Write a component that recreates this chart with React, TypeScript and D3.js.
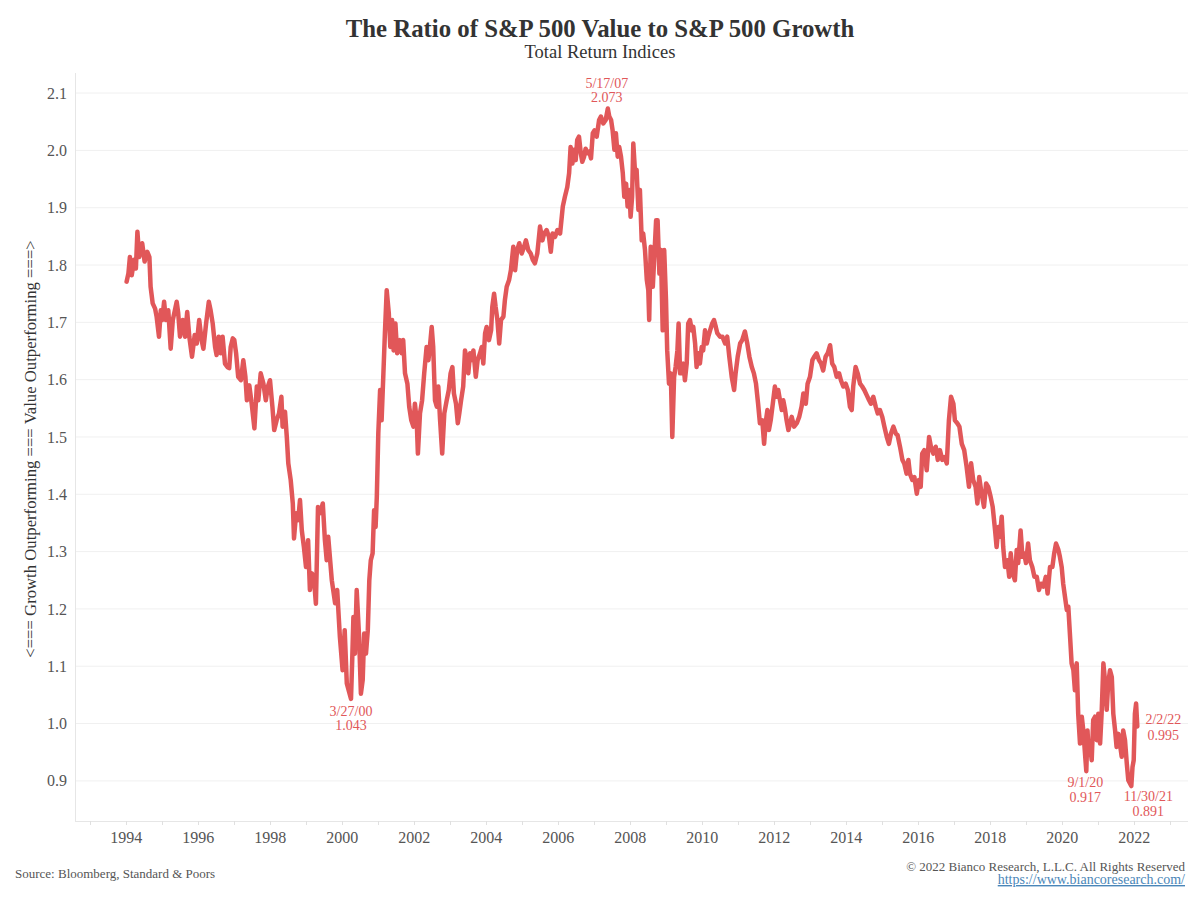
import { useEffect, useRef } from "react";
import * as d3 from "d3";

// months since Jan 1994 and the Value / Growth ratio
const monthsSince1994 = [
  0.1, 0.7, 1.2, 1.8, 2.6, 3.2, 3.7, 4.3, 5.3, 6.1, 7.0, 7.7, 8.1, 8.8, 9.6, 10.1, 10.9, 11.5, 12.0, 12.6,
  13.2, 14.0, 14.8, 15.5, 16.2, 16.8, 17.3, 17.9, 18.8, 19.6, 20.3, 21.0, 21.9, 22.8, 23.5, 24.3, 25.1, 25.7, 26.6, 27.5,
  28.1, 28.8, 29.6, 30.1, 30.8, 31.5, 32.1, 32.9, 33.7, 34.3, 34.8, 35.5, 36.0, 36.6, 37.3, 38.2, 39.0, 39.7, 40.2, 41.0,
  41.8, 42.7, 43.5, 44.0, 44.8, 45.7, 46.5, 47.2, 47.9, 48.7, 49.3, 50.1, 50.9, 51.7, 52.1, 52.9, 53.5, 54.0, 54.8, 55.5,
  55.9, 56.6, 57.3, 57.9, 58.5, 59.2, 59.9, 60.6, 61.2, 61.9, 62.6, 63.2, 63.9, 64.6, 65.5, 66.2, 66.8, 67.3,
  68.5, 69.6, 70.3, 71.2, 72.1, 72.8, 73.5, 74.9, 75.3, 75.7, 76.2, 76.8, 77.6, 78.2, 78.8, 79.3, 79.9, 80.5, 81.0, 81.5,
  82.1, 82.6, 83.1, 83.5, 84.0, 84.6, 85.1, 85.7, 86.2, 86.8, 87.5, 88.0, 88.6, 89.1, 89.7, 90.3, 91.2, 91.8, 92.3, 92.9,
  93.7, 94.3, 95.0, 95.7, 96.2, 96.8, 97.2, 97.9, 98.6, 99.3, 100.1, 100.7, 101.2, 101.8, 102.3, 102.9, 103.5, 104.0, 104.6, 105.3,
  106.0, 106.8, 107.5, 108.1, 108.7, 109.2, 109.9, 110.5, 111.0, 111.6, 112.3, 112.9, 113.5, 114.0, 114.6, 115.1, 115.7, 116.5, 117.1, 117.9,
  118.5, 119.0, 119.6, 120.1, 120.9, 121.6, 122.0, 122.6, 123.1, 123.7, 124.3, 124.9, 125.7, 126.2, 126.8, 127.6, 128.2, 129.0, 129.6, 130.3,
  131.0, 131.8, 132.6, 133.2, 134.0, 134.8, 135.5, 136.2, 137.0, 137.9, 138.7, 139.3, 140.1, 140.9, 141.5, 142.1, 142.9, 143.7, 144.6,
  145.5, 146.2, 147.0, 147.6, 148.1, 148.7, 149.2, 149.8, 150.3, 150.9, 151.5, 152.0, 152.6, 153.1, 153.7, 154.3, 154.9, 155.5, 156.1, 156.8,
  157.6, 158.2, 159.0, 159.8, 160.5, 161.0, 161.6, 162.1, 162.7, 163.2, 163.8, 164.3, 164.9, 165.5, 166.0, 166.6, 167.1, 167.7, 168.1, 168.6,
  169.0, 169.6, 170.1, 170.7, 171.2, 171.8, 172.3, 172.9, 173.5, 174.0, 174.3, 174.8, 175.5, 176.0, 176.6, 177.1, 177.7, 178.2, 178.8, 179.3,
  179.9, 180.3, 180.9, 181.5, 182.0, 182.6, 183.1, 183.7, 184.1, 184.6, 185.1, 185.7, 186.2, 186.8, 187.3, 187.9, 188.5, 189.0, 189.6, 190.1,
  190.7, 191.2, 191.8, 192.3, 192.9, 193.5, 194.0, 194.6, 195.3, 195.9, 196.5, 197.0, 197.9, 198.7, 199.6, 200.3, 201.0, 201.8, 202.6, 203.1,
  203.8, 204.6, 205.3, 206.2, 207.0, 207.7, 208.5, 209.2, 209.9, 210.6, 211.2, 212.0, 212.6, 213.1, 213.7, 214.2, 214.8, 215.5, 216.2, 216.8,
  217.3, 217.9, 218.5, 219.0, 219.6, 220.1, 220.7,
  221.8, 222.6, 223.5, 224.3, 225.1, 225.7, 226.5, 227.1, 227.9, 228.7, 229.3, 230.1, 230.9, 231.6, 232.3, 233.1, 233.8, 234.6, 235.3, 236.0,
  236.8, 237.6, 238.2, 239.0, 239.8, 240.5, 241.2, 241.8, 242.3, 243.1, 243.8, 244.6, 245.3, 246.0, 246.8, 247.6, 248.2, 249.0, 249.8, 250.5,
  251.2, 252.0, 252.7, 253.5, 254.2, 254.9, 255.7, 256.5, 257.1, 257.9, 258.7, 259.3, 260.1, 260.7, 261.2, 262.0, 262.7, 263.5, 264.2, 264.8,
  265.3, 266.0, 266.8, 267.6, 268.2, 269.0, 269.8, 270.5, 271.2, 272.0, 272.7, 273.5, 274.2, 274.9, 275.7, 276.2, 277.0, 277.7, 278.5, 279.3,
  280.1, 280.9, 281.6, 282.3, 283.1, 283.7, 284.3, 285.1, 285.9, 286.6, 287.3, 288.1,
  288.8, 289.6, 290.1, 290.7, 291.2, 291.8, 292.3, 292.9, 293.7, 294.3, 294.8, 295.5, 296.2, 296.8, 297.3, 298.1, 298.7, 299.3, 299.9, 300.6,
  301.2, 302.0, 302.7, 303.5, 304.2, 304.9, 305.7, 306.5, 307.1, 307.9, 308.7, 309.3, 309.9, 310.7, 311.2, 311.8, 312.3, 312.9, 313.5, 314.0,
  314.6, 315.1, 315.7, 316.2, 316.8, 317.3, 317.9, 318.5, 319.0, 320.0, 320.4, 320.8, 321.2, 321.8, 322.3, 322.9, 323.5, 324.0, 324.6, 325.1,
  325.7, 326.2, 326.8, 327.3, 327.9, 328.5, 329.0, 329.6, 330.1, 330.7, 331.2, 331.8, 332.3, 332.9, 333.5, 334.0, 335.0, 335.4, 335.8, 336.2,
  336.6, 337.0,
];

const ratio = [
  1.771, 1.785, 1.814, 1.782, 1.809, 1.794, 1.858, 1.814, 1.838, 1.806, 1.823, 1.814, 1.762, 1.733, 1.724, 1.71, 1.675, 1.721, 1.704, 1.736,
  1.704, 1.721, 1.654, 1.704, 1.721, 1.736, 1.716, 1.675, 1.704, 1.675, 1.718, 1.675, 1.64, 1.678, 1.663, 1.704, 1.669, 1.654, 1.698, 1.736,
  1.721, 1.698, 1.657, 1.643, 1.675, 1.646, 1.675, 1.628, 1.622, 1.62, 1.657, 1.672, 1.669, 1.646, 1.605, 1.599, 1.634, 1.605, 1.564, 1.59,
  1.558, 1.515, 1.588, 1.564, 1.611, 1.593, 1.564, 1.588, 1.599, 1.553, 1.512, 1.529, 1.541, 1.57, 1.518, 1.544, 1.5, 1.454, 1.425, 1.384,
  1.323, 1.367, 1.355, 1.39, 1.337, 1.308, 1.273, 1.32, 1.233, 1.262, 1.25, 1.209, 1.378, 1.367, 1.384, 1.32, 1.285, 1.326,
  1.25, 1.21, 1.233, 1.151, 1.093, 1.163, 1.07, 1.043, 1.11, 1.186, 1.122, 1.233, 1.151, 1.052, 1.076, 1.157, 1.122, 1.163, 1.25, 1.285,
  1.297, 1.372, 1.343, 1.395, 1.506, 1.582, 1.529, 1.611, 1.681, 1.756, 1.716, 1.657, 1.704, 1.651, 1.698, 1.646, 1.669, 1.646, 1.669, 1.611,
  1.593, 1.553, 1.529, 1.518, 1.558, 1.529, 1.471, 1.541, 1.564, 1.611, 1.657, 1.634, 1.657, 1.692, 1.657, 1.564, 1.553, 1.588, 1.529, 1.471,
  1.541, 1.564, 1.582, 1.611, 1.622, 1.576, 1.558, 1.524, 1.541, 1.564, 1.588, 1.651, 1.634, 1.611, 1.646, 1.634, 1.651, 1.605, 1.634, 1.646,
  1.657, 1.628, 1.681, 1.692, 1.669, 1.686, 1.727, 1.75, 1.727, 1.704, 1.663, 1.704, 1.71, 1.739, 1.762, 1.774, 1.791, 1.832, 1.791, 1.826,
  1.838, 1.82, 1.832, 1.843, 1.826, 1.82, 1.809, 1.803, 1.82, 1.867, 1.843, 1.855, 1.861, 1.849, 1.823, 1.855, 1.849, 1.861, 1.855,
  1.902, 1.919, 1.936, 1.96, 2.006, 1.977, 2.001, 1.983, 2.018, 2.024, 1.995, 1.98, 1.989, 2.003, 1.995, 1.998, 1.986, 2.03, 2.035, 2.024,
  2.053, 2.059, 2.047, 2.053, 2.073, 2.059, 2.053, 2.035, 2.001, 2.03, 1.989, 2.006, 1.989, 1.96, 1.919, 1.942, 1.902, 1.931, 1.884, 1.919,
  2.012, 1.96, 1.966, 1.896, 1.931, 1.843, 1.855, 1.826, 1.774, 1.756, 1.704, 1.832, 1.762, 1.814, 1.878, 1.878, 1.785, 1.826, 1.686, 1.826,
  1.739, 1.651, 1.593, 1.611, 1.5, 1.605, 1.622, 1.651, 1.698, 1.611, 1.611, 1.628, 1.599, 1.628, 1.698, 1.704, 1.686, 1.692, 1.663, 1.622,
  1.646, 1.628, 1.657, 1.651, 1.686, 1.663, 1.675, 1.686, 1.698, 1.704, 1.692, 1.681, 1.675, 1.675, 1.663, 1.675, 1.64, 1.605, 1.582, 1.611,
  1.64, 1.663, 1.669, 1.684, 1.663, 1.64, 1.622, 1.611, 1.593, 1.558, 1.524, 1.529, 1.488, 1.524, 1.547, 1.512, 1.529, 1.558, 1.588, 1.57,
  1.582, 1.564, 1.547, 1.564, 1.547, 1.529, 1.512,
  1.535, 1.518, 1.524, 1.535, 1.553, 1.576, 1.558, 1.593, 1.605, 1.634, 1.64, 1.646, 1.634, 1.628, 1.616, 1.64, 1.646, 1.66, 1.628, 1.622,
  1.605, 1.611, 1.599, 1.588, 1.593, 1.582, 1.553, 1.547, 1.588, 1.622, 1.611, 1.593, 1.588, 1.582, 1.573, 1.564, 1.558, 1.57, 1.553, 1.541,
  1.547, 1.535, 1.518, 1.5, 1.488, 1.506, 1.518, 1.506, 1.503, 1.483, 1.46, 1.454, 1.436, 1.46, 1.436, 1.425, 1.43, 1.401, 1.425, 1.413,
  1.471, 1.477, 1.442, 1.5, 1.483, 1.471, 1.483, 1.46, 1.477, 1.46, 1.465, 1.454, 1.529, 1.57, 1.558, 1.529, 1.524, 1.518, 1.488, 1.477,
  1.448, 1.413, 1.454, 1.425, 1.413, 1.384, 1.43, 1.401, 1.378, 1.419, 1.413, 1.396,
  1.378, 1.337, 1.308, 1.343, 1.326, 1.361, 1.308, 1.273, 1.285, 1.256, 1.297, 1.262, 1.25, 1.303, 1.28, 1.337, 1.291, 1.297, 1.28, 1.314,
  1.285, 1.273, 1.256, 1.256, 1.233, 1.244, 1.239, 1.256, 1.227, 1.273, 1.273, 1.297, 1.314, 1.303, 1.291, 1.273, 1.244, 1.221, 1.198, 1.204,
  1.151, 1.105, 1.093, 1.058, 1.105, 1.017, 0.965, 1.012, 0.988, 0.917, 0.988, 0.948, 0.965, 0.936, 1.006, 1.012, 0.971, 1.017, 0.965, 1.017,
  1.105, 1.076, 1.024, 1.07, 1.093, 1.081, 1.017, 0.988, 0.959, 0.982, 0.965, 0.942, 0.988, 0.971, 0.93, 0.901, 0.891, 0.924, 0.936, 1.017,
  1.035, 0.995,
];

const yTicks = [0.9, 1.0, 1.1, 1.2, 1.3, 1.4, 1.5, 1.6, 1.7, 1.8, 1.9, 2.0, 2.1];
const tickYears = d3.range(1993, 2024);
const labelYears = [1994, 1996, 1998, 2000, 2002, 2004, 2006, 2008, 2010, 2012, 2014, 2016, 2018, 2020, 2022];

const calloutDates = ["3/27/00", "5/17/07", "9/1/20", "11/30/21", "2/2/22"];
const calloutMonths = [74.9, 160.5, 320.0, 335.0, 337.0];
const calloutValues = [1.043, 2.073, 0.917, 0.891, 0.995];

const FONT = "'Liberation Serif', Georgia, serif";
const RED = "#e15759";

const toDate = (m: number) => new Date(Date.UTC(1994, 0, 1) + m * 30.4375 * 864e5);

export default function App() {
  const ref = useRef<SVGSVGElement>(null);

  useEffect(() => {
    const svg = d3.select(ref.current);
    svg.selectAll("*").remove();

    const left = 75, right = 1188, top = 73, bottom = 821;

    const x = d3
      .scaleUtc()
      .domain([toDate(-17.1), toDate(353.9)])
      .range([left, right]);
    const y = d3.scaleLinear().domain([0.83, 2.135]).range([bottom, top]);

    // grid
    svg
      .append("g")
      .selectAll("line")
      .data(yTicks)
      .join("line")
      .attr("x1", left)
      .attr("x2", right)
      .attr("y1", (d) => y(d))
      .attr("y2", (d) => y(d))
      .attr("stroke", "#f0f0f0")
      .attr("stroke-width", 1);

    // axis frame
    svg.append("line").attr("x1", left + 0.5).attr("x2", left + 0.5).attr("y1", top).attr("y2", bottom).attr("stroke", "#e6e6e6");
    svg.append("line").attr("x1", left).attr("x2", right).attr("y1", bottom + 0.5).attr("y2", bottom + 0.5).attr("stroke", "#e6e6e6");

    // y labels
    svg
      .append("g")
      .selectAll("text")
      .data(yTicks)
      .join("text")
      .attr("x", 67)
      .attr("y", (d) => y(d))
      .attr("dy", "0.35em")
      .attr("text-anchor", "end")
      .attr("font-family", FONT)
      .attr("font-size", 16)
      .attr("fill", "#555")
      .text((d) => d.toFixed(1));

    // x ticks
    svg
      .append("g")
      .selectAll("line")
      .data(tickYears)
      .join("line")
      .attr("x1", (d) => Math.round(x(new Date(Date.UTC(d, 0, 1)))) + 0.5)
      .attr("x2", (d) => Math.round(x(new Date(Date.UTC(d, 0, 1)))) + 0.5)
      .attr("y1", bottom)
      .attr("y2", bottom + 4)
      .attr("stroke", "#e0e0e0");

    svg
      .append("g")
      .selectAll("text")
      .data(labelYears)
      .join("text")
      .attr("x", (d) => x(new Date(Date.UTC(d, 0, 1))))
      .attr("y", 843)
      .attr("text-anchor", "middle")
      .attr("font-family", FONT)
      .attr("font-size", 16)
      .attr("fill", "#555")
      .text((d) => d);

    // y title
    svg
      .append("text")
      .attr("transform", `translate(30,${449}) rotate(-90)`)
      .attr("dy", "0.35em")
      .attr("text-anchor", "middle")
      .attr("font-family", FONT)
      .attr("font-size", 16.7)
      .attr("fill", "#333")
      .text("<=== Growth Outperforming === Value Outperforming ===>");

    // line
    const pts = monthsSince1994.map((m, i) => [m, ratio[i]] as [number, number]);
    const line = d3
      .line<[number, number]>()
      .x((d) => x(toDate(d[0])))
      .y((d) => y(d[1]));
    svg
      .append("path")
      .datum(pts)
      .attr("d", line)
      .attr("fill", "none")
      .attr("stroke", RED)
      .attr("stroke-width", 4.5)
      .attr("stroke-linejoin", "round")
      .attr("stroke-linecap", "round");

    // callouts
    const place: Record<string, [number, number, number]> = {
      "3/27/00": [0, 17, 31],
      "5/17/07": [-1, -21, -7],
      "9/1/20": [-1, 16, 31],
      "11/30/21": [17, 15, 30],
      "2/2/22": [26, -2, 14],
    };
    calloutDates.forEach((label, i) => {
      const cx = x(toDate(calloutMonths[i]));
      const cy = y(calloutValues[i]);
      const [dx, d1, d2] = place[label];
      const g = svg.append("g").attr("font-family", FONT).attr("font-size", 14).attr("fill", RED).attr("text-anchor", "middle");
      g.append("text").attr("x", cx + dx).attr("y", cy + d1).text(label);
      g.append("text").attr("x", cx + dx).attr("y", cy + d2).text(calloutValues[i].toFixed(3));
    });

    // titles
    svg
      .append("text")
      .attr("x", 600)
      .attr("y", 37)
      .attr("text-anchor", "middle")
      .attr("font-family", FONT)
      .attr("font-weight", "bold")
      .attr("font-size", 24.8)
      .attr("fill", "#333")
      .text("The Ratio of S&P 500 Value to S&P 500 Growth");
    svg
      .append("text")
      .attr("x", 600)
      .attr("y", 58)
      .attr("text-anchor", "middle")
      .attr("font-family", FONT)
      .attr("font-size", 18.5)
      .attr("fill", "#333")
      .text("Total Return Indices");

    // footer
    svg
      .append("text")
      .attr("x", 15)
      .attr("y", 878)
      .attr("font-family", FONT)
      .attr("font-size", 13)
      .attr("fill", "#555")
      .text("Source: Bloomberg, Standard & Poors");
    svg
      .append("text")
      .attr("x", 1185)
      .attr("y", 871)
      .attr("text-anchor", "end")
      .attr("font-family", FONT)
      .attr("font-size", 13)
      .attr("fill", "#555")
      .text("© 2022 Bianco Research, L.L.C. All Rights Reserved");
    svg
      .append("text")
      .attr("x", 1185)
      .attr("y", 884)
      .attr("text-anchor", "end")
      .attr("font-family", FONT)
      .attr("font-size", 14)
      .attr("fill", "#4a86b8")
      .attr("text-decoration", "underline")
      .text("https://www.biancoresearch.com/");
  }, []);

  return (
    <svg
      ref={ref}
      width={1200}
      height={900}
      style={{ position: "absolute", left: 0, top: 0, background: "#fff" }}
    />
  );
}
